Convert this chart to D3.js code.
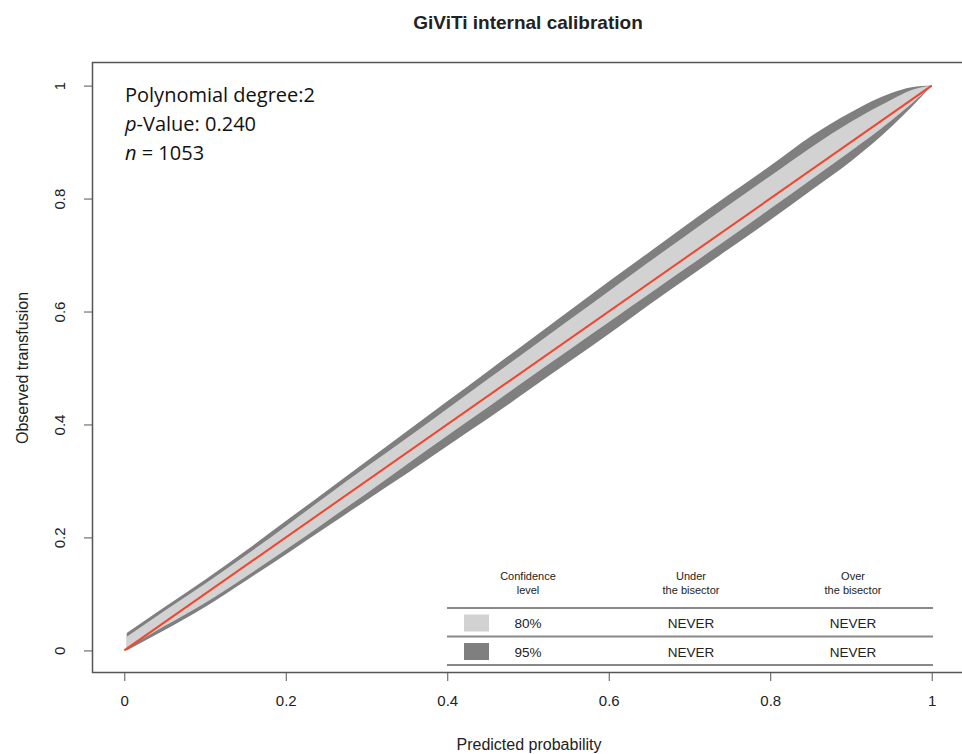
<!DOCTYPE html>
<html>
<head>
<meta charset="utf-8">
<script src="https://cdn.jsdelivr.net/npm/d3@7"></script>
<style>
  body { margin: 0; background: #fff; }
  svg { display: block; }
</style>
</head>
<body>
<svg id="chart" width="962" height="754"></svg>
<script>
// ---- data ----
const xs     = [0.003, 0.05, 0.1, 0.15, 0.2, 0.25, 0.3, 0.35, 0.4, 0.45, 0.5, 0.55, 0.6, 0.65, 0.7, 0.75, 0.8, 0.85, 0.9, 0.95, 0.975, 1.0];
const upper95 = [0.031, 0.077, 0.125, 0.176, 0.229, 0.282, 0.335, 0.388, 0.441, 0.494, 0.547, 0.600, 0.653, 0.705, 0.757, 0.808, 0.858, 0.910, 0.953, 0.987, 0.997, 1.0];
const upper80 = [0.024, 0.070, 0.118, 0.168, 0.220, 0.273, 0.325, 0.376, 0.428, 0.480, 0.532, 0.584, 0.636, 0.688, 0.739, 0.790, 0.840, 0.890, 0.936, 0.975, 0.992, 1.0];
const lower80 = [0.004, 0.043, 0.084, 0.130, 0.178, 0.228, 0.278, 0.329, 0.380, 0.430, 0.481, 0.531, 0.581, 0.631, 0.681, 0.731, 0.782, 0.833, 0.884, 0.938, 0.968, 1.0];
const lower95 = [0.000, 0.036, 0.077, 0.123, 0.170, 0.218, 0.266, 0.313, 0.362, 0.410, 0.460, 0.510, 0.560, 0.612, 0.662, 0.712, 0.762, 0.814, 0.866, 0.927, 0.962, 1.0];
const bisector = [0, 1];
const xTicks = [0, 0.2, 0.4, 0.6, 0.8, 1];
const yTicks = [0, 0.2, 0.4, 0.6, 0.8, 1];
const tableHeaders = [["Confidence", "level"], ["Under", "the bisector"], ["Over", "the bisector"]];
const tableLevels = ["80%", "95%"];
const tableUnder = ["NEVER", "NEVER"];
const tableOver = ["NEVER", "NEVER"];
const titleText = "GiViTi internal calibration";
const xLabel = "Predicted probability";
const yLabel = "Observed transfusion";

// ---- drawing ----
const svg = d3.select("#chart");
const x = d3.scaleLinear().domain([-0.04, 1.04]).range([92, 964]);
const y = d3.scaleLinear().domain([-0.04, 1.04]).range([673, 63]);

const band = xs.map((v, i) => ({x: v, u95: upper95[i], u80: upper80[i], l80: lower80[i], l95: lower95[i]}));

const area95 = d3.area().x(d => x(d.x)).y0(d => y(d.l95)).y1(d => y(d.u95)).curve(d3.curveMonotoneX);
const area80 = d3.area().x(d => x(d.x)).y0(d => y(d.l80)).y1(d => y(d.u80)).curve(d3.curveMonotoneX);

svg.append("path").datum(band).attr("d", area95).attr("fill", "#7f7f7f");
svg.append("path").datum(band).attr("d", area80).attr("fill", "#d2d2d2");

svg.append("path").datum(bisector)
  .attr("d", d3.line().x(d => x(d)).y(d => y(d)))
  .attr("stroke", "#f0462e").attr("stroke-width", 2).attr("fill", "none");

// plot box
svg.append("rect").attr("x", 92.5).attr("y", 62.5).attr("width", 875).attr("height", 610)
  .attr("fill", "none").attr("stroke", "#555").attr("stroke-width", 1.5);

const axisFont = "Liberation Sans, Arial, sans-serif";

// x axis
const xAxis = d3.axisBottom(x).tickValues(xTicks).tickFormat(d3.format("~g")).tickSize(8).tickPadding(14);
const gx = svg.append("g").attr("transform", "translate(0,673)").call(xAxis);
gx.select(".domain").remove();
gx.selectAll("line").attr("stroke", "#555");
gx.selectAll("text").attr("font-family", axisFont).attr("font-size", 15).attr("fill", "#222");

// y axis
const yAxis = d3.axisLeft(y).tickValues(yTicks).tickFormat(d3.format("~g")).tickSize(8).tickPadding(0);
const gy = svg.append("g").attr("transform", "translate(92,0)").call(yAxis);
gy.select(".domain").remove();
gy.selectAll("line").attr("stroke", "#555");
gy.selectAll("text")
  .attr("font-family", axisFont).attr("font-size", 15).attr("fill", "#222")
  .attr("text-anchor", "middle").attr("x", 0).attr("dy", null)
  .attr("transform", "translate(-31,0) rotate(-90)")
  .attr("dominant-baseline", "middle");

// titles
svg.append("text").attr("x", 528).attr("y", 29).attr("text-anchor", "middle")
  .attr("font-family", axisFont).attr("font-weight", "bold").attr("font-size", 19)
  .attr("fill", "#222").text(titleText);
svg.append("text").attr("x", 529).attr("y", 750).attr("text-anchor", "middle")
  .attr("font-family", axisFont).attr("font-size", 16).attr("fill", "#222").text(xLabel);
svg.append("text").attr("transform", "translate(28,368) rotate(-90)").attr("text-anchor", "middle")
  .attr("font-family", axisFont).attr("font-size", 16).attr("fill", "#222").text(yLabel);

// annotation
const ann = svg.append("g").attr("font-family", "Open Sans, Noto Sans, sans-serif").attr("font-size", 20).attr("fill", "#111");
ann.append("text").attr("x", 125).attr("y", 102).text("Polynomial degree:2");
const t2 = ann.append("text").attr("x", 125).attr("y", 131);
t2.append("tspan").attr("font-style", "italic").text("p");
t2.append("tspan").text("-Value: 0.240");
const t3 = ann.append("text").attr("x", 125).attr("y", 160);
t3.append("tspan").attr("font-style", "italic").text("n");
t3.append("tspan").text(" = 1053");

// legend table
const tbl = svg.append("g").attr("font-family", axisFont).attr("fill", "#222");
const colX = [528, 691, 853];
tableHeaders.forEach((h, i) => {
  h.forEach((line, j) => {
    tbl.append("text").attr("x", colX[i]).attr("y", 580 + j * 14).attr("text-anchor", "middle")
      .attr("font-size", 11).text(line);
  });
});
[608, 636.5, 665].forEach(yy => {
  tbl.append("line").attr("x1", 447).attr("x2", 933).attr("y1", yy).attr("y2", yy)
    .attr("stroke", "#888").attr("stroke-width", 2.2);
});
const swatchColors = ["#d2d2d2", "#7f7f7f"];
tableLevels.forEach((lvl, i) => {
  const rowY = 623 + i * 28.5;
  tbl.append("rect").attr("x", 464).attr("y", rowY - 8.5).attr("width", 25).attr("height", 17).attr("fill", swatchColors[i]);
  tbl.append("text").attr("x", 528).attr("y", rowY + 5).attr("text-anchor", "middle").attr("font-size", 13.5).text(lvl);
  tbl.append("text").attr("x", colX[1]).attr("y", rowY + 5).attr("text-anchor", "middle").attr("font-size", 13.5).text(tableUnder[i]);
  tbl.append("text").attr("x", colX[2]).attr("y", rowY + 5).attr("text-anchor", "middle").attr("font-size", 13.5).text(tableOver[i]);
});
</script>
</body>
</html>
